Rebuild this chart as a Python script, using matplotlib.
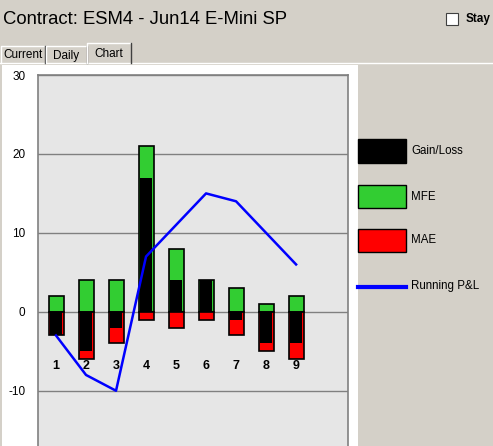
import matplotlib
matplotlib.use("Agg")
from matplotlib import pyplot as plt
from matplotlib.patches import Rectangle
from matplotlib.lines import Line2D

plt.rcParams['font.family'] = ['Liberation Sans', 'DejaVu Sans']
plt.rcParams['axes.unicode_minus'] = False

trades = [1, 2, 3, 4, 5, 6, 7, 8, 9]
gain_loss = [-3, -5, -2, 17, 4, 4, -1, -4, -4]
mfe = [2, 4, 4, 21, 8, 4, 3, 1, 2]
mae = [-3, -6, -4, -1, -2, -1, -3, -5, -6]
running_pl = [-3, -8, -10, 7, 11, 15, 14, 10, 6]
yticks = [-10, 0, 10, 20, 30]

bg = "#D4D0C8"
green = "#32CD32"

fig = plt.figure(figsize=(4.93, 4.46), dpi=100)
fig.patch.set_facecolor(bg)
W, H = 493.0, 446.0

# white chart panel and tab strip
fig.add_artist(Rectangle((2 / W, 0), 356 / W, (H - 65) / H, transform=fig.transFigure,
                         facecolor="white", edgecolor="none", zorder=0))
fig.add_artist(Line2D([0, 1], [(H - 63) / H] * 2, transform=fig.transFigure, color="white", lw=1))
tabs = [("Current", 1, 45, 46), ("Daily", 46, 87, 46), ("Chart", 87, 131, 43)]
for name, x0, x1, top in tabs:
    fig.add_artist(Rectangle((x0 / W, (H - 63) / H), (x1 - x0) / W, (63 - top) / H,
                             transform=fig.transFigure, facecolor=bg, edgecolor="none"))
    fig.add_artist(Line2D([x0 / W, x0 / W, x1 / W], [(H - 63) / H, (H - top) / H, (H - top) / H],
                          transform=fig.transFigure, color="white", lw=1))
    fig.add_artist(Line2D([x1 / W, x1 / W], [(H - top) / H, (H - 63) / H],
                          transform=fig.transFigure, color="#404040", lw=1))
    fig.text((x0 + x1) / 2 / W, (H - (top + 63) / 2 - 1) / H, name, ha="center", va="center",
             fontsize=8.5)

fig.text(3 / W, (H - 20) / H, "Contract: ESM4 - Jun14 E-Mini SP", fontsize=13.3, va="center")
fig.add_artist(Rectangle((446 / W, (H - 25) / H), 12 / W, 12 / H, transform=fig.transFigure,
                         facecolor="white", edgecolor="#404040", lw=0.8))
fig.text(466 / W, (H - 19) / H, "Stay", fontsize=8.5, fontweight="bold", va="center")

ax = fig.add_axes([38 / W, 0, 310 / W, 371 / H])
ax.set_facecolor("#E6E6E6")
ax.set_xlim(0.4, 10.73)
ax.set_ylim(-17, 30)

ax.bar(trades, mfe, width=0.5, color=green, edgecolor="black", linewidth=1.2, zorder=2)
ax.bar(trades, mae, width=0.5, color="red", edgecolor="black", linewidth=1.2, zorder=2)
ax.bar(trades, gain_loss, width=0.42, color="black", linewidth=0, zorder=3)
ax.plot(trades, running_pl, color="blue", lw=1.8, zorder=4)

for t in trades:
    ax.text(t, -6.85, str(t), ha="center", va="center", fontsize=9, fontweight="bold")

ax.set_yticks(yticks)
ax.set_xticks([])
ax.tick_params(axis="y", length=0, pad=9, labelsize=8.5)
ax.grid(axis="y", color="#808080", lw=1, zorder=1)
ax.set_axisbelow(True)
for s in ["left", "right", "top"]:
    ax.spines[s].set_color("#808080")
    ax.spines[s].set_linewidth(1.2)
ax.spines["bottom"].set_visible(False)

# legend drawn beside the panel
legend_rows = [("Gain/Loss", "black", 151), ("MFE", green, 197), ("MAE", "red", 240)]
for label, col, yc in legend_rows:
    fig.add_artist(Rectangle((358 / W, (H - yc - 11.5) / H), 48 / W, 23 / H,
                             transform=fig.transFigure, facecolor=col, edgecolor="black", lw=1))
    fig.text(411 / W, (H - yc) / H, label, fontsize=8.3, va="center")
fig.add_artist(Line2D([358 / W, 406 / W], [(H - 286.5) / H] * 2, transform=fig.transFigure,
                      color="blue", lw=3))
fig.text(411 / W, (H - 286.5) / H, "Running P&L", fontsize=8.3, va="center")

plt.savefig("out.png", dpi=100, facecolor=bg)
